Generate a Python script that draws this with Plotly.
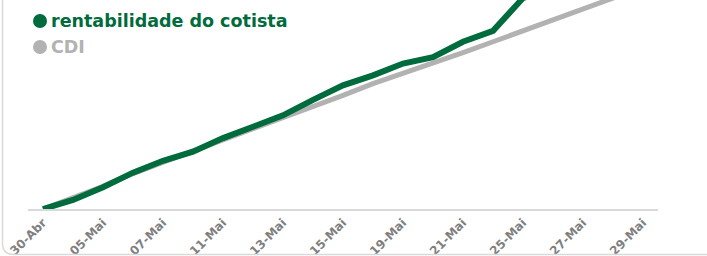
import plotly.graph_objects as go

dates = ["30-Abr", "04-Mai", "05-Mai", "06-Mai", "07-Mai", "08-Mai", "11-Mai", "12-Mai",
         "13-Mai", "14-Mai", "15-Mai", "18-Mai", "19-Mai", "20-Mai", "21-Mai", "22-Mai",
         "25-Mai", "26-Mai", "27-Mai", "28-Mai", "29-Mai"]
tick_labels = ["30-Abr", "05-Mai", "07-Mai", "11-Mai", "13-Mai", "15-Mai",
               "19-Mai", "21-Mai", "25-Mai", "27-Mai", "29-Mai"]
cotista = [0.0, 0.010, 0.024, 0.040, 0.053, 0.063, 0.078, 0.090, 0.103, 0.120, 0.136,
           0.147, 0.160, 0.167, 0.184, 0.196, 0.232, 0.245, 0.258, 0.270, 0.285]
cdi = [0.0, 0.012, 0.025, 0.039, 0.052, 0.064, 0.076, 0.088, 0.100, 0.113, 0.125,
       0.138, 0.149, 0.161, 0.172, 0.184, 0.196, 0.208, 0.220, 0.232, 0.244]
series_names = ["rentabilidade do cotista", "CDI"]

GREEN = "#006B3C"
GREY = "#B2B2B2"

ML, MR, MT, MB = 28, 49, 0, 47
W, H = 707, 256
PW, PH = W - ML - MR, H - MT - MB

fig = go.Figure()
fig.add_trace(go.Scatter(x=dates, y=cdi, mode="lines", line=dict(color=GREY, width=5),
                         name=series_names[1], showlegend=False, hoverinfo="skip"))
fig.add_trace(go.Scatter(x=dates, y=cotista, mode="lines", line=dict(color=GREEN, width=6),
                         name=series_names[0], showlegend=False, hoverinfo="skip"))


def px_to_paper(px, py):
    return (px - ML) / PW, (H - MB - py) / PH


# frame border (rounded corner at bottom-left)
x0, yt = px_to_paper(2.5, -30)
_, yc = px_to_paper(2.5, 243)
xc, yb = px_to_paper(13.5, 254.5)
xe, _ = px_to_paper(900, 254.5)
path = f"M {x0},{yt} L {x0},{yc} Q {x0},{yb} {xc},{yb} L {xe},{yb}"
shapes = [dict(type="path", xref="paper", yref="paper", path=path,
               line=dict(color="#D9D9D9", width=1.5))]

# manual legend
annotations = []
for i, (name, col) in enumerate(zip(series_names, [GREEN, GREY])):
    cy = 21 + 26 * i
    ax0, ay0 = px_to_paper(33, cy - 7)
    ax1, ay1 = px_to_paper(47, cy + 7)
    shapes.append(dict(type="circle", xref="paper", yref="paper",
                       x0=ax0, x1=ax1, y0=ay1, y1=ay0,
                       fillcolor=col, line=dict(width=0)))
    tx, ty = px_to_paper(49, cy)
    annotations.append(dict(xref="paper", yref="paper", x=tx, y=ty, xanchor="left",
                            yanchor="middle", showarrow=False, text="<b>%s</b>" % name,
                            font=dict(size=17.5, color=col, family="DejaVu Sans")))

fig.update_layout(
    width=W, height=H,
    margin=dict(l=ML, r=MR, t=MT, b=MB, autoexpand=False),
    paper_bgcolor="white", plot_bgcolor="white",
    font=dict(family="DejaVu Sans", color="#7F7F7F"),
    showlegend=False,
    xaxis=dict(type="category", range=[-0.5, len(dates) - 0.5], automargin=False,
               tickmode="array", tickvals=tick_labels, ticktext=["<b>%s</b>" % t for t in tick_labels],
               tickangle=-45, tickfont=dict(size=12, color="#7F7F7F"),
               showline=True, linecolor="#D9D9D9", linewidth=2, showgrid=False,
               ticks="", zeroline=False),
    yaxis=dict(range=[0, 0.2299], visible=False, showgrid=False, zeroline=False, automargin=False),
    shapes=shapes,
    annotations=annotations,
)

fig.write_html("out.html", config={"displayModeBar": False},
               post_script="document.body.style.margin='0';document.body.style.overflow='hidden';")
